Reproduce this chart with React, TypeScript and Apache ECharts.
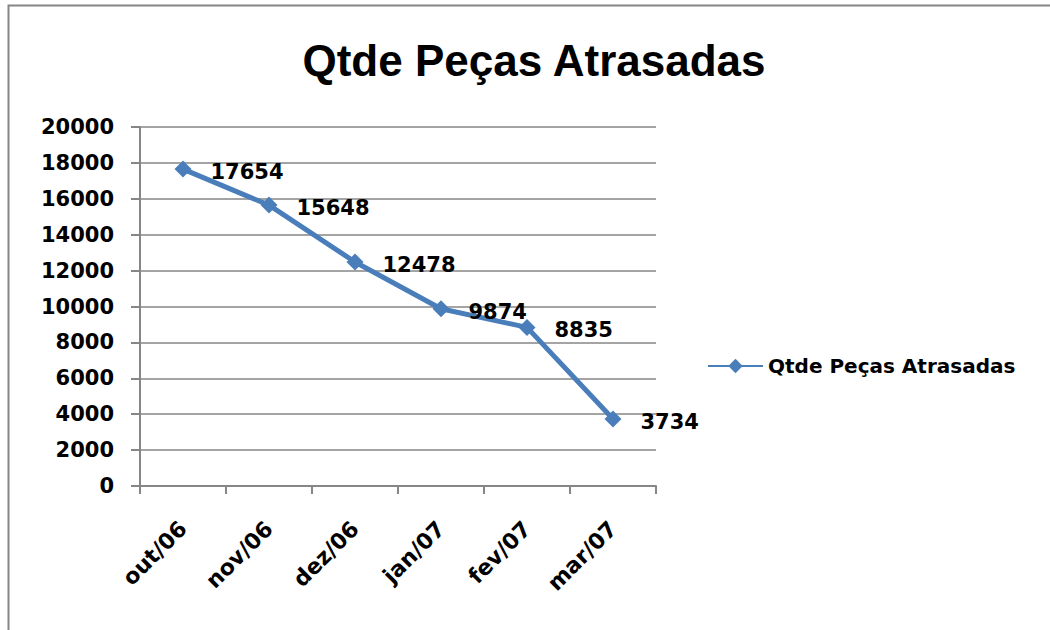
import React, { useEffect, useRef } from "react";
import * as echarts from "echarts";

const title = "Qtde Peças Atrasadas";
const seriesName = "Qtde Peças Atrasadas";
const categories = ["out/06", "nov/06", "dez/06", "jan/07", "fev/07", "mar/07"];
const values = [17654, 15648, 12478, 9874, 8835, 3734];
const yMin = 0;
const yMax = 20000;
const yInterval = 2000;

const LABEL_FONT = "'DejaVu Sans', sans-serif";
const TITLE_FONT = "'Liberation Sans', Arial, sans-serif";
const BLUE = "#4a7ebb";
const GRAY = "#868686";

export default function App() {
  const ref = useRef<HTMLDivElement>(null);
  useEffect(() => {
    if (!ref.current) return;
    const chart = echarts.init(ref.current, undefined, { renderer: "svg" });
    chart.setOption({
      animation: false,
      backgroundColor: "#ffffff",
      title: {
        text: title,
        left: 529,
        top: 33,
        textAlign: "center",
        textStyle: {
          fontFamily: TITLE_FONT,
          fontWeight: "bold",
          fontSize: 44,
          color: "#000",
        },
      },
      graphic: [
        {
          type: "rect",
          shape: { x: 8.5, y: 5.5, width: 1100, height: 700 },
          style: { fill: "none", stroke: GRAY, lineWidth: 2 },
          silent: true,
        },
      ],
      legend: {
        left: 702,
        top: 351,
        itemWidth: 55,
        itemHeight: 18,
        itemGap: 10,
        textStyle: {
          fontFamily: LABEL_FONT,
          fontWeight: "bold",
          fontSize: 20,
          color: "#000",
        },
        data: [seriesName],
      },
      grid: { left: 140, top: 127, width: 516, height: 359, containLabel: false },
      xAxis: {
        type: "category",
        data: categories,
        boundaryGap: true,
        axisLine: { lineStyle: { color: GRAY, width: 2 } },
        axisTick: { show: true, length: 8, lineStyle: { color: GRAY, width: 2 } },
        axisLabel: {
          rotate: 45,
          margin: 39,
          fontFamily: LABEL_FONT,
          fontWeight: "bold",
          fontSize: 22,
          color: "#000",
        },
      },
      yAxis: {
        type: "value",
        min: yMin,
        max: yMax,
        interval: yInterval,
        axisLine: { show: true, lineStyle: { color: GRAY, width: 2 } },
        axisTick: { show: true, length: 9, lineStyle: { color: GRAY, width: 2 } },
        splitLine: { show: true, lineStyle: { color: GRAY, width: 1.5 } },
        axisLabel: {
          margin: 26,
          formatter: (v: number) => String(v),
          fontFamily: LABEL_FONT,
          fontWeight: "bold",
          fontSize: 21,
          color: "#000",
        },
      },
      series: [
        {
          name: seriesName,
          type: "line",
          data: values,
          symbol: "diamond",
          symbolSize: 17,
          lineStyle: { color: BLUE, width: 5 },
          itemStyle: { color: BLUE },
          label: {
            show: true,
            position: "right",
            distance: 19,
            offset: [0, 3],
            fontFamily: LABEL_FONT,
            fontWeight: "bold",
            fontSize: 21,
            color: "#000",
          },
        },
      ],
    });
    return () => chart.dispose();
  }, []);
  return (
    <div
      ref={ref}
      style={{ position: "fixed", left: 0, top: 0, width: 1050, height: 630 }}
    />
  );
}
